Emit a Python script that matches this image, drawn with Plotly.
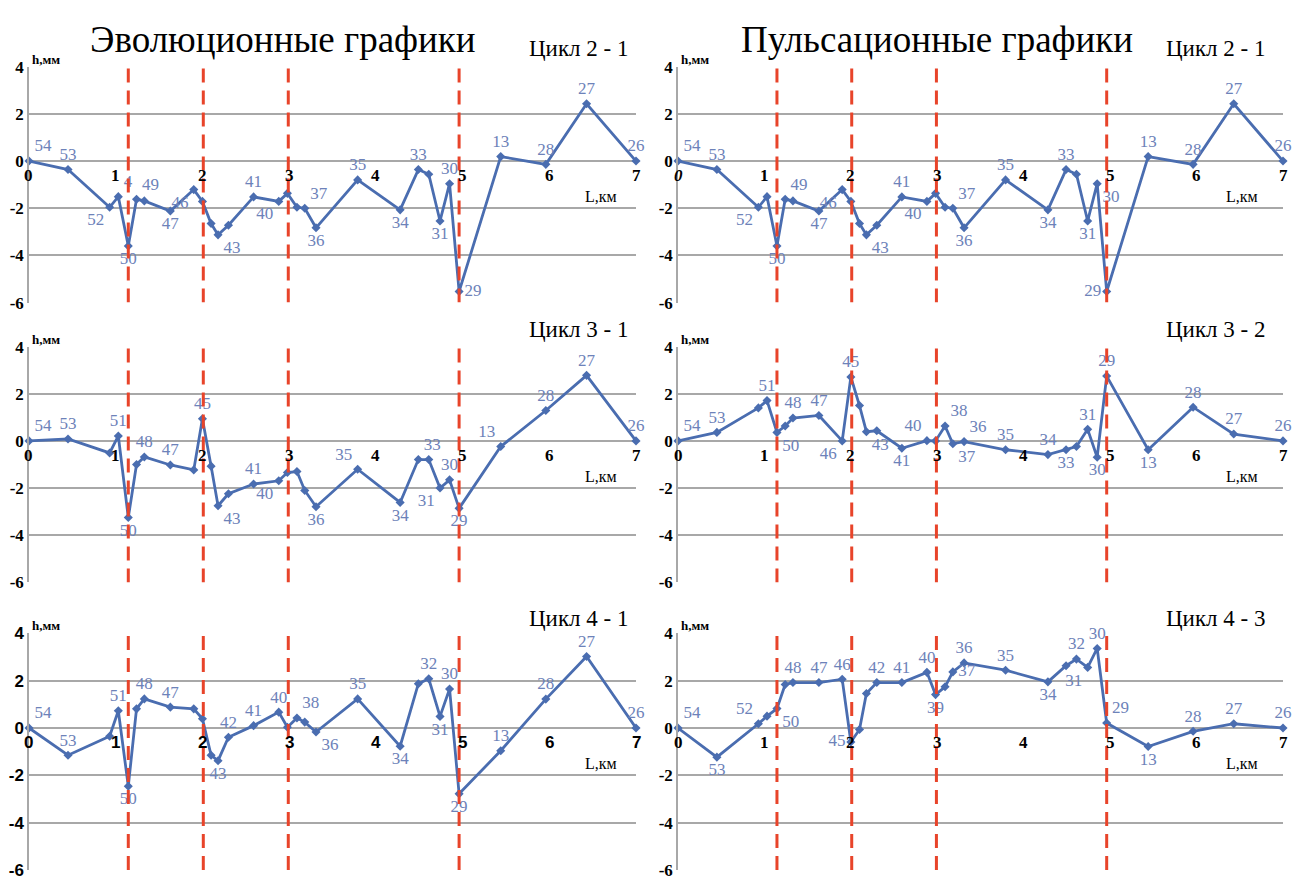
import plotly.graph_objects as go

# ---------------- data ----------------
STATIONS = ["54", "53", "52", "51", "50", "49", "48", "47", "46", "45", "44", "43", "42", "41", "40",
            "39", "38", "37", "36", "35", "34", "33", "32", "31", "30", "29", "13", "28", "27", "26"]
STATION_X = [0, 0.45, 0.93, 1.03, 1.145, 1.24, 1.33, 1.63, 1.90, 2.0, 2.10, 2.18, 2.30, 2.59, 2.88,
             2.98, 3.09, 3.18, 3.31, 3.79, 4.28, 4.49, 4.61, 4.74, 4.85, 4.96, 5.44, 5.96, 6.43, 7.0]

H_2_1 = [0, -0.36, -1.96, -1.51, -3.6, -1.62, -1.69, -2.12, -1.21, -1.71, -2.65, -3.13, -2.72, -1.52, -1.71,
         -1.37, -1.96, -2.0, -2.83, -0.8, -2.07, -0.36, -0.56, -2.54, -0.96, -5.53, 0.19, -0.14, 2.43, 0]
H_3_1 = [0, 0.08, -0.51, 0.21, -3.25, -1.0, -0.68, -1.02, -1.23, 0.94, -1.07, -2.75, -2.24, -1.83, -1.69,
         -1.34, -1.30, -2.1, -2.79, -1.2, -2.61, -0.79, -0.79, -2.0, -1.65, -2.86, -0.24, 1.29, 2.78, 0]
H_4_1 = [0, -1.15, -0.35, 0.73, -2.46, 0.81, 1.23, 0.88, 0.81, 0.39, -1.15, -1.38, -0.39, 0.1, 0.67,
         0.03, 0.42, 0.25, -0.17, 1.23, -0.77, 1.87, 2.08, 0.49, 1.65, -2.78, -0.96, 1.22, 3.02, 0]
H_3_2 = [0, 0.36, 1.40, 1.71, 0.36, 0.63, 0.97, 1.08, 0, 2.71, 1.5, 0.39, 0.43, -0.31, 0.01,
         0.0, 0.63, -0.12, -0.03, -0.375, -0.58, -0.375, -0.24, 0.49, -0.69, 2.75, -0.375, 1.43, 0.29, 0]
H_4_3 = [0, -1.23, 0.18, 0.5, 0.82, 1.84, 1.92, 1.92, 2.06, -0.59, -0.06, 1.46, 1.92, 1.92, 2.35,
         1.41, 1.74, 2.37, 2.75, 2.44, 1.95, 2.63, 2.91, 2.56, 3.36, 0.21, -0.78, -0.14, 0.18, 0]

BOUNDARIES_KM = [1.145, 2.01, 2.99, 4.96]
X_TICKS = [0, 1, 2, 3, 4, 5, 6, 7]
Y_TICKS = [-6, -4, -2, 0, 2, 4]

TITLE_LEFT = "Эволюционные графики"
TITLE_RIGHT = "Пульсационные графики"
CYCLES = ["Цикл 2 - 1", "Цикл 2 - 1", "Цикл 3 - 1", "Цикл 3 - 2", "Цикл 4 - 1", "Цикл 4 - 3"]

# ---------------- label styling (positions of point numbers) ----------------
LBL_1 = {"54": "top right", "53": "top center", "52": "bottom left", "51": "top right", "50": "bottom center",
         "49": "top right", "47": "bottom center", "46": "bottom left", "43": "bottom right", "41": "top center",
         "40": "bottom left", "37": "top right", "36": "bottom center", "35": "top center", "34": "bottom center",
         "33": "top center", "31": "bottom center", "30": "top center", "29": "middle right", "13": "top center",
         "28": "top center", "27": "top center", "26": "top center"}
TXT_1 = {"51": "4"}
LBL_2 = dict(LBL_1)
del LBL_2["51"]
LBL_2.update({"29": "middle left", "30": "bottom right"})
LBL_3 = {"54": "top right", "53": "top center", "51": "top center", "50": "bottom center", "48": "top center",
         "47": "top center", "45": "top center", "43": "bottom right", "41": "top center", "40": "bottom left",
         "36": "bottom center", "35": "top left", "34": "bottom center", "33": "top right", "31": "bottom left",
         "30": "top center", "29": "bottom center", "13": "top left", "28": "top center", "27": "top center",
         "26": "top center"}
LBL_4 = {"54": "top right", "53": "top center", "51": "top center", "50": "bottom right", "48": "top center",
         "47": "top center", "46": "bottom left", "45": "top center", "43": "bottom right", "41": "bottom center",
         "40": "top left", "38": "top right", "37": "bottom right", "36": "top right", "35": "top center",
         "34": "top center", "33": "bottom center", "31": "top center", "30": "bottom center", "29": "top center",
         "13": "bottom center", "28": "top center", "27": "top center", "26": "top center"}
LBL_5 = {"54": "top right", "53": "top center", "51": "top center", "50": "bottom center", "48": "top center",
         "47": "top center", "43": "bottom center", "42": "top center", "41": "top center", "40": "top center",
         "38": "top right", "36": "bottom right", "35": "top center", "34": "bottom center", "32": "top center",
         "31": "bottom center", "30": "top center", "29": "bottom center", "13": "top center", "28": "top center",
         "27": "top center", "26": "top center"}
LBL_6 = {"54": "top right", "53": "bottom center", "52": "top left", "50": "bottom right", "48": "top center",
         "47": "top center", "46": "top center", "45": "middle left", "42": "top center", "41": "top center",
         "40": "top center", "39": "bottom center", "37": "middle right", "36": "top center", "35": "top center",
         "34": "bottom center", "32": "top center", "31": "bottom left", "30": "top center", "29": "top right",
         "13": "bottom center", "28": "top center", "27": "top center", "26": "top center"}

W, H = 1298, 884
LINE_C = "#4a6db0"
LABEL_C = "#6d82b9"
GRID_C = "#a8a8a8"
RED = "#e8442a"
SERIF = "Liberation Serif, Times New Roman, DejaVu Serif, serif"
SANS = "Liberation Sans, Arial, sans-serif"

cols = [(29, 636), (678, 1283)]
rows = [(59, 300), (345, 586), (638, 880)]

panels = [
    (0, 0, H_2_1, LBL_1, TXT_1, SERIF, "<b>0</b>"),
    (0, 1, H_2_1, LBL_2, {}, SERIF, "<b><i>0</i></b>"),
    (1, 0, H_3_1, LBL_3, {}, SERIF, "<b>0</b>"),
    (1, 1, H_3_2, LBL_4, {}, SERIF, "<b>0</b>"),
    (2, 0, H_4_1, LBL_5, {}, SANS, "<b>0</b>"),
    (2, 1, H_4_3, LBL_6, {}, SERIF, "<b>0</b>"),
]

fig = go.Figure()
annotations = []
shapes = []
layout = {}

for i, (r, c, hv, lbl, txt, tickfam, zero_txt) in enumerate(panels):
    n = i + 1
    xa = "x" if n == 1 else f"x{n}"
    ya = "y" if n == 1 else f"y{n}"
    xkey = "xaxis" if n == 1 else f"xaxis{n}"
    ykey = "yaxis" if n == 1 else f"yaxis{n}"
    x0p, x1p = cols[c]
    y0p, y1p = rows[r]
    layout[xkey] = dict(domain=[x0p / W, x1p / W], range=[0, 7], anchor=ya,
                        showgrid=False, zeroline=False, showticklabels=False, showline=False, fixedrange=True)
    layout[ykey] = dict(domain=[1 - y1p / H, 1 - y0p / H], range=[-6, 4], anchor=xa,
                        tickvals=Y_TICKS, ticktext=[f"<b>{v}</b>" for v in Y_TICKS],
                        tickfont=dict(family=tickfam, size=17, color="black"),
                        showgrid=True, gridcolor=GRID_C, gridwidth=1.5, zeroline=False,
                        showline=True, linecolor=GRID_C, linewidth=1.5, ticks="", ticklen=0, fixedrange=True)

    texts = [txt.get(s, s) if s in lbl else "" for s in STATIONS]
    positions = [lbl.get(s, "top center") for s in STATIONS]
    fig.add_trace(go.Scatter(
        x=STATION_X, y=hv, xaxis=xa, yaxis=ya, mode="lines+markers+text",
        line=dict(color=LINE_C, width=2.8),
        marker=dict(symbol="diamond", size=7, color=LINE_C),
        text=texts, textposition=positions,
        textfont=dict(family=SERIF, size=17, color=LABEL_C),
        cliponaxis=False, showlegend=False, hoverinfo="skip"))

    # red dashed section boundaries
    for bx in BOUNDARIES_KM:
        shapes.append(dict(type="line", xref=xa, yref=ya, x0=bx, x1=bx, y0=-6, y1=4.1,
                           line=dict(color=RED, width=3, dash="14px,8px"), layer="above"))

    # x tick labels along the zero line
    for k in X_TICKS:
        t = zero_txt if k == 0 else f"<b>{k}</b>"
        annotations.append(dict(x=k, y=0, xref=xa, yref=ya, text=t, showarrow=False,
                                xanchor="center", yanchor="top", yshift=-3,
                                font=dict(family=tickfam, size=17, color="black")))
    # axis names
    annotations.append(dict(x=0, y=4, xref=xa, yref=ya, text="<b>h,мм</b>", showarrow=False,
                            xanchor="left", yanchor="bottom", xshift=1, yshift=-2,
                            font=dict(family=SERIF, size=13, color="black")))
    annotations.append(dict(x=6.6 if c == 0 else 6.53, y=-1.5, xref=xa, yref=ya, text="L,км", showarrow=False,
                            xanchor="center", yanchor="middle",
                            font=dict(family=SERIF, size=16, color="black")))
    # cycle label
    cx = 578 if c == 0 else 1215
    cy = [40, 328, 623][r]
    annotations.append(dict(x=cx / W, y=1 - cy / H, xref="paper", yref="paper", text=CYCLES[i],
                            showarrow=False, xanchor="center", yanchor="middle",
                            font=dict(family=SERIF, size=23, color="black")))

annotations.append(dict(x=283 / W, y=1 - 31 / H, xref="paper", yref="paper", text=TITLE_LEFT,
                        showarrow=False, xanchor="center", yanchor="middle",
                        font=dict(family=SERIF, size=37, color="black")))
annotations.append(dict(x=937 / W, y=1 - 31 / H, xref="paper", yref="paper", text=TITLE_RIGHT,
                        showarrow=False, xanchor="center", yanchor="middle",
                        font=dict(family=SERIF, size=37, color="black")))

fig.update_layout(width=W, height=H, margin=dict(l=0, r=0, t=0, b=0),
                  paper_bgcolor="white", plot_bgcolor="white",
                  annotations=annotations, shapes=shapes, **layout)

fig.write_html("out.html", config={"displayModeBar": False})
